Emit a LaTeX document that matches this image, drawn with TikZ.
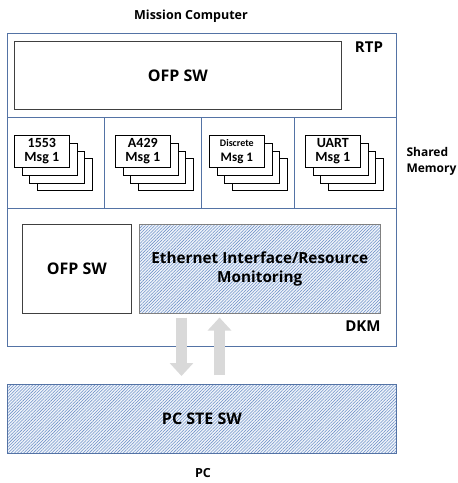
\documentclass[tikz,border=0pt]{standalone}
\usepackage{fontspec}
\setmainfont{Open Sans}
\newfontfamily\msgfont{Carlito}
\usetikzlibrary{positioning,patterns.meta,arrows.meta}

\definecolor{frameblue}{RGB}{84,115,165}
\definecolor{hatchblue}{RGB}{110,145,200}
\definecolor{boxgray}{RGB}{64,64,64}
\definecolor{arrowgray}{RGB}{217,217,217}

\tikzset{
  swbox/.style={draw=boxgray, line width=0.8pt, inner sep=0pt, anchor=north west,
    align=center, font=\bfseries\fontsize{16}{20}\selectfont},
  hatched/.style={preaction={fill=hatchblue!10},
    pattern={Lines[angle=45,distance=2.2pt,line width=0.55pt]}, pattern color=hatchblue},
  msgbox/.style={draw=black, fill=white, line width=0.7pt, minimum width=55pt, minimum height=32pt,
    inner sep=0pt, anchor=north west, align=center, font=\msgfont\bfseries\fontsize{14}{14}\selectfont},
  tag/.style={font=\bfseries\fontsize{15}{18}\selectfont},
  caption/.style={font=\bfseries\fontsize{12.5}{15}\selectfont},
  flow/.style={line width=11pt, arrowgray, -{Triangle[width=23pt,length=13pt]}}
}

\begin{document}
\begin{tikzpicture}[x=1pt,y=-1pt]
  \useasboundingbox (0,0) rectangle (458,483);

  % mission computer frame
  \node[draw=frameblue, line width=0.8pt, minimum width=389pt, minimum height=313pt,
    inner sep=0pt, anchor=north west] (mc) at (7,33) {};
  \node[caption] (mctitle) at (191,16) {Mission Computer};
  \draw[frameblue, line width=0.8pt] (7,117) -- (396,117);
  \draw[frameblue, line width=0.8pt] (7,208) -- (396,208);
  \foreach \x in {104,201,294}
    \draw[frameblue, line width=0.8pt] (\x,117) -- (\x,208);

  % RTP
  \node[swbox, minimum width=327pt, minimum height=68pt] (rtpsw) at (14,41) {OFP SW};
  \node[tag] (rtp) at (369,47) {RTP};

  % shared memory
  \foreach \x/\nm in {14/bus, 115/arinc, 209/disc, 305/uart}
    \foreach \i in {3,2,1}
      \node[msgbox] (\nm\i) at (\x+7.7*\i,135+7.8*\i) {};
  \node[msgbox] (bus0) at (14,135) {1553\\Msg 1};
  \node[msgbox] (arinc0) at (115,135) {A429\\Msg 1};
  \node[msgbox] (disc0) at (209,135) {{\fontsize{10}{11}\selectfont Discrete}\\[1pt]{\fontsize{13}{13}\selectfont Msg 1}};
  \node[msgbox] (uart0) at (305,135) {UART\\Msg 1};
  \node[caption, font=\bfseries\fontsize{12}{16}\selectfont, align=left, anchor=west] (shm) at (403,161) {Shared\\Memory};

  % DKM
  \node[swbox, minimum width=109pt, minimum height=89pt] (dkmsw) at (22,224) {OFP SW};
  \node[swbox, hatched, draw=gray, font=\bfseries\fontsize{15.3}{19}\selectfont,
    minimum width=241pt, minimum height=89pt] (eth) at (139,224)
    {Ethernet Interface/Resource\\Monitoring};
  \node[tag] (dkm) at (363,326) {DKM};

  % PC
  \node[swbox, hatched, draw=frameblue, minimum width=389pt, minimum height=69pt] (pcsw) at (7,384) {PC STE SW};
  \node[caption] (pc) at (203,473) {PC};

  \draw[flow] ([xshift=42.5pt,yshift=-4pt]eth.south west) -- ([xshift=174.5pt,yshift=8pt]pcsw.north west);
  \draw[flow] ([xshift=212.5pt,yshift=9pt]pcsw.north west) -- ([xshift=80.5pt,yshift=-4pt]eth.south west);
\end{tikzpicture}
\end{document}
